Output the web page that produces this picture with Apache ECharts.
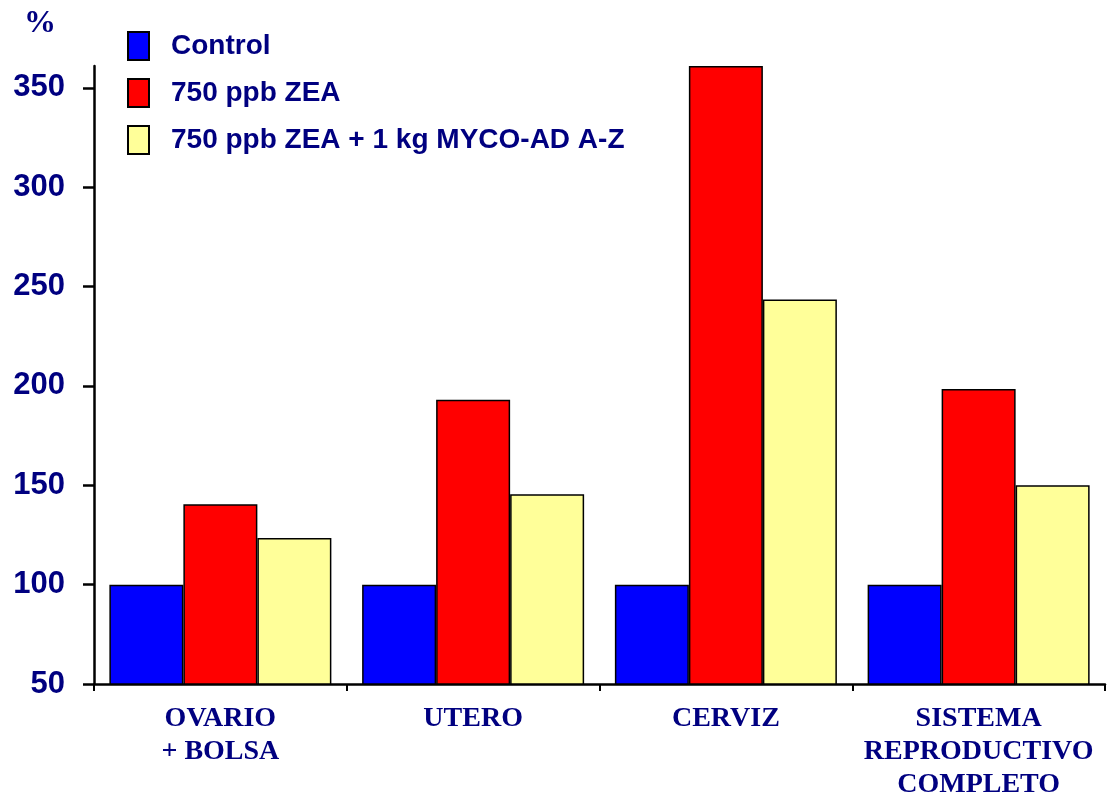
<!DOCTYPE html>
<html>
<head>
<meta charset="utf-8">
<script src="https://cdn.jsdelivr.net/npm/echarts@6/dist/echarts.min.js"></script>
<style>
  html, body { margin: 0; padding: 0; background: #fff; }
  #main { width: 1107px; height: 802px; }
</style>
</head>
<body>
<div id="main"></div>
<script>
'use strict';
// categorias del eje x
var categories = ['OVARIO\n+ BOLSA', 'UTERO', 'CERVIZ', 'SISTEMA\nREPRODUCTIVO\nCOMPLETO'];
var seriesNames = ['Control', '750 ppb ZEA', '750 ppb ZEA + 1 kg MYCO-AD A-Z'];
var control = [100, 100, 100, 100];
var zea = [140.5, 193, 361, 198.5];
var zeaMyco = [123.5, 145.5, 243.5, 150];
var yTicks = [50, 100, 150, 200, 250, 300, 350];

var navy = '#000080';
var chart = echarts.init(document.getElementById('main'));

function barSeries(name, data, color) {
  return {
    name: name,
    type: 'bar',
    data: data,
    barWidth: 74,
    barGap: '0%',
    clip: true,
    itemStyle: { color: color, borderColor: '#000', borderWidth: 1.5 }
  };
}

chart.setOption({
  animation: false,
  backgroundColor: '#fff',
  grid: { left: 94, right: 2, top: 66, bottom: 118, containLabel: false },
  graphic: [{
    type: 'text', left: 24, top: 8,
    style: { text: '%', font: 'bold 32px "Liberation Serif"', fill: navy }
  }],
  legend: {
    orient: 'vertical',
    left: 127, top: 31,
    padding: 0,
    itemWidth: 21, itemHeight: 28, itemGap: 17,
    icon: 'rect',
    selectedMode: false,
    textStyle: {
      color: navy, fontFamily: 'Liberation Sans', fontWeight: 'bold', fontSize: 28,
      padding: [0, 0, 0, 17]
    },
    data: seriesNames
  },
  xAxis: {
    type: 'category',
    data: categories,
    axisLine: { lineStyle: { color: '#000', width: 2.5 } },
    axisTick: { show: true, length: 7, lineStyle: { color: '#000', width: 2 } },
    axisLabel: {
      color: navy, fontFamily: 'Liberation Serif', fontWeight: 'bold',
      fontSize: 28, lineHeight: 33, margin: 18, interval: 0
    },
    splitLine: { show: false }
  },
  yAxis: {
    type: 'value',
    min: 50, max: 361,
    axisLine: { show: true, lineStyle: { color: '#000', width: 2.5 } },
    axisTick: { show: true, length: 11, customValues: yTicks, lineStyle: { color: '#000', width: 2.5 } },
    axisLabel: {
      customValues: yTicks,
      color: navy, fontFamily: 'Liberation Sans', fontWeight: 'bold', fontSize: 31, margin: 29
    },
    splitLine: { show: false }
  },
  series: [
    barSeries(seriesNames[0], control, '#0000ff'),
    barSeries(seriesNames[1], zea, '#ff0000'),
    barSeries(seriesNames[2], zeaMyco, '#ffff99')
  ]
});
</script>
</body>
</html>
